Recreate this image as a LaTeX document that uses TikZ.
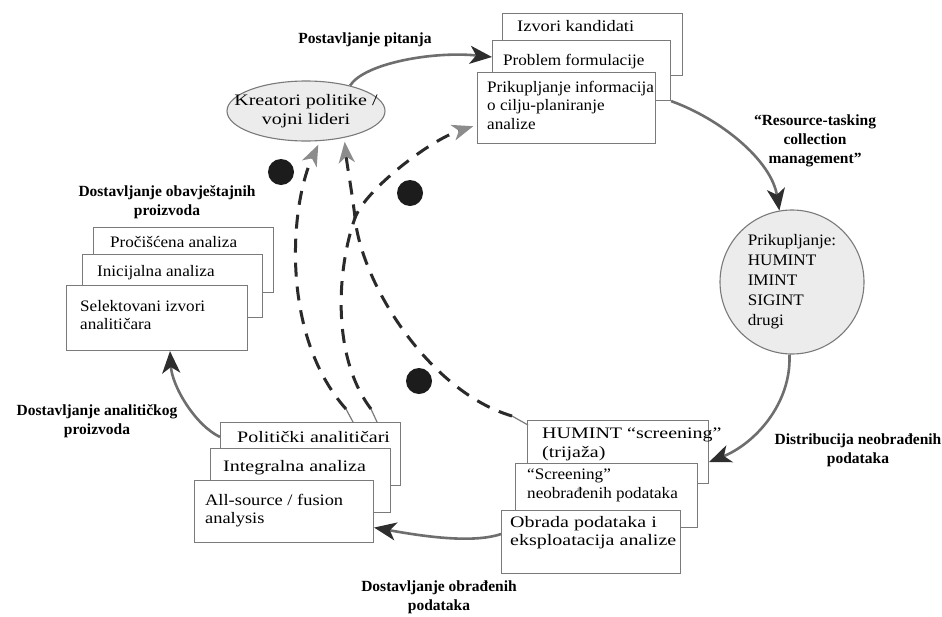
\documentclass[tikz,border=0pt]{standalone}
\usepackage{fontspec}
\setmainfont{Liberation Serif}
\newfontfamily\fsA{Liberation Serif}[FakeStretch=1.07]
\newfontfamily\fsB{Liberation Serif}[FakeStretch=1.15]
\newfontfamily\fsC{Liberation Serif}[FakeStretch=1.25]
\usetikzlibrary{arrows.meta,calc,shapes.geometric}
\definecolor{linegray}{HTML}{6E6E6E}
\definecolor{arrowdark}{HTML}{2E2E2E}
\definecolor{arrowgray}{HTML}{8C8C8C}
\definecolor{dashdark}{HTML}{2A2A2A}
\definecolor{boxgray}{HTML}{7A7A7A}
\definecolor{shapefill}{HTML}{ECECEC}
\definecolor{dotblack}{HTML}{1C1C1C}
\begin{document}
\begin{tikzpicture}[x=1pt,y=-1pt,
  box/.style={draw=boxgray, line width=1.1pt, fill=white, inner sep=0pt, anchor=north west},
  btxt/.style={inner sep=0pt, anchor=north west, align=left, font=\fsA\fontsize{16}{18.5}\selectfont},
  wideB/.style={font=\fsB\fontsize{16}{18.5}\selectfont},
  wideC/.style={font=\fsC\fontsize{16}{18.5}\selectfont},
  lbl/.style={align=center, inner sep=0pt, font=\fontsize{15.5}{19}\selectfont\bfseries},
  flow/.style={draw=linegray, line width=2.6pt, -{Stealth[length=22pt,width=18pt,inset=6pt,color=arrowdark,fill=arrowdark]}},
  fb/.style={draw=dashdark, line width=3pt, dash pattern=on 14pt off 10pt, shorten >=4pt, -{Stealth[length=21pt,width=16pt,inset=6pt,color=arrowgray,fill=arrowgray]}},
  thinend/.style={draw=boxgray, line width=1.2pt},
  dot/.style={circle, fill=dotblack, minimum size=26pt, inner sep=0pt}
]
\fill[white] (0,0) rectangle (942,616);
\useasboundingbox (0,0) rectangle (942,616);

% policy makers
\node[ellipse, draw=boxgray, line width=1.1pt, fill=shapefill, minimum width=158pt, minimum height=60pt, inner sep=0pt] (K) at (306,111) {};
\node[align=center, inner sep=0pt, wideC] (Kt) at (K.center) {Kreatori politike /\\vojni lideri};

% top right stack
\node[box, minimum width=180pt, minimum height=62pt] (A) at (502,13) {};
\node[btxt, wideB] (At) at ([xshift=15pt,yshift=-7pt]A.north west) {Izvori kandidati};
\node[box, minimum width=178pt, minimum height=60pt] (B) at (492,40) {};
\node[btxt] (Bt) at ([xshift=11pt,yshift=-14pt]B.north west) {Problem formulacije};
\node[box, minimum width=178pt, minimum height=71pt] (Pc) at (477,72) {};
\begin{scope}
\clip ([xshift=1pt,yshift=-1pt]Pc.north west) rectangle ([xshift=-2pt,yshift=1pt]Pc.south east);
\node[btxt] (Pct) at ([xshift=10pt,yshift=-9pt]Pc.north west) {Prikupljanje informacija\\o cilju-planiranje\\analize};
\end{scope}

% collection circle
\node[circle, draw=boxgray, line width=1.1pt, fill=shapefill, minimum size=144pt, inner sep=0pt] (C) at (792,282) {};
\node[align=left, inner sep=0pt, font=\fsA\fontsize{16}{20}\selectfont] (Ct) at (C.center) {Prikupljanje:\\HUMINT\\IMINT\\SIGINT\\drugi};

% HUMINT stack
\node[box, minimum width=181pt, minimum height=63pt] (H1) at (527,420) {};
\node[btxt, wideC] (H1t) at ([xshift=15pt,yshift=-8pt]H1.north west) {HUMINT “screening”\\(trijaža)};
\node[box, minimum width=182pt, minimum height=64pt] (H2) at (515,463) {};
\node[btxt] (H2t) at ([xshift=12pt,yshift=-6pt]H2.north west) {“Screening”\\neobrađenih podataka};
\node[box, minimum width=179pt, minimum height=63pt] (H3) at (501,510) {};
\node[btxt, wideC] (H3t) at ([xshift=9pt,yshift=-6pt]H3.north west) {Obrada podataka i\\eksploatacija analize};

% analysts stack
\node[box, minimum width=180pt, minimum height=63pt] (P1) at (220,422) {};
\node[btxt, wideC] (P1t) at ([xshift=17pt,yshift=-9pt]P1.north west) {Politički analitičari};
\node[box, minimum width=180pt, minimum height=64pt] (P2) at (210,448) {};
\node[btxt, wideC] (P2t) at ([xshift=13pt,yshift=-12pt]P2.north west) {Integralna analiza};
\node[box, minimum width=179pt, minimum height=62pt] (P3) at (194,480) {};
\node[btxt, wideB] (P3t) at ([xshift=11pt,yshift=-14pt]P3.north west) {All-source / fusion\\analysis};

% products stack
\node[box, minimum width=180pt, minimum height=65pt] (L1) at (93,227) {};
\node[btxt] (L1t) at ([xshift=17pt,yshift=-9pt]L1.north west) {Pročišćena analiza};
\node[box, minimum width=180pt, minimum height=63pt] (L2) at (82,254) {};
\node[btxt] (L2t) at ([xshift=15pt,yshift=-11pt]L2.north west) {Inicijalna analiza};
\node[box, minimum width=181pt, minimum height=65pt] (L3) at (66,285) {};
\node[btxt] (L3t) at ([xshift=14pt,yshift=-15pt]L3.north west) {Selektovani izvori\\analitičara};

% labels
\node[lbl] (l1) at (365,40) {Postavljanje pitanja};
\node[lbl] (l2) at (815,141) {“Resource-tasking\\collection\\management”};
\node[lbl] (l3) at (858,450) {Distribucija neobrađenih\\podataka};
\node[lbl] (l4) at (439,597) {Dostavljanje obrađenih\\podataka};
\node[lbl] (l5) at (97,421) {Dostavljanje analitičkog\\proizvoda};
\node[lbl] (l6) at (167,202) {Dostavljanje obavještajnih\\proizvoda};

% main cycle
\draw[flow] (K.30) .. controls +(14,-22) and +(-60,-6) .. ([yshift=-17pt]B.north west);
\draw[flow] (B.south east) .. controls +(50,18) and +(-8,-50) .. (C.100);
\draw[flow] (C.268) .. controls +(2,50) and +(45,-18) .. ([yshift=-42pt]H1.north east);
\draw[flow] ([yshift=8pt]H3.west) .. controls +(-30,10) and +(45,8) .. ([yshift=-16pt]P3.east);
\draw[flow] ([yshift=-15pt]P1.north west) .. controls +(-25,-12) and +(2,35) .. ([xshift=104pt]L3.south west);

% feedback
\coordinate (X) at (355,218);
\coordinate (s1) at ([xshift=126pt,yshift=13pt]P1.north west);
\coordinate (s2) at ([xshift=151pt,yshift=13pt]P1.north west);
\coordinate (s3) at ([xshift=-15pt,yshift=4pt]H1.north west);
\draw[thinend] ([xshift=133pt]P1.north west) -- (s1);
\draw[thinend] ([xshift=157pt]P1.north west) -- (s2);
\draw[thinend] ([xshift=1pt,yshift=-5pt]H1.north west) -- (s3);
\draw[fb] (s1) .. controls (280,335) and (290,205) .. (K.295);
\draw[fb] (s2) .. controls (330,355) and (338,265) .. (X) .. controls (365,190) and (430,140) .. ([yshift=-53pt]Pc.north west);
\draw[fb] (s3) .. controls (430,392) and (362,285) .. (X) .. controls (353,198) and (347,165) .. (K.325);

\node[dot] (d1) at (281,172) {};
\node[dot] (d2) at (410,193) {};
\node[dot] (d3) at (419,381) {};
\end{tikzpicture}
\end{document}
